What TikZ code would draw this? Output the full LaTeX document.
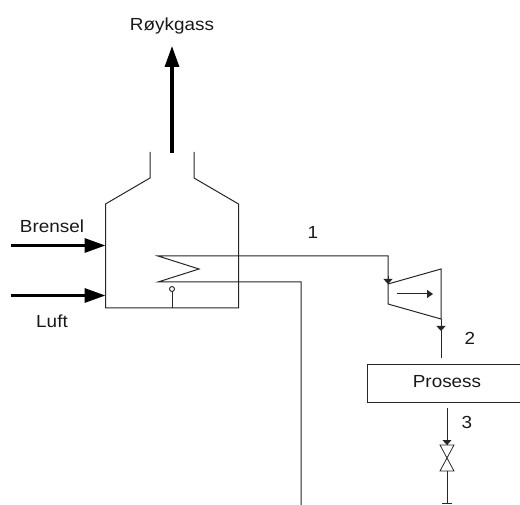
\documentclass[tikz,border=0pt]{standalone}
\usepackage{fontspec}
\setmainfont[FakeStretch=1.08]{Liberation Sans}
\usetikzlibrary{arrows.meta}
\tikzset{
  x=1pt,y=-1pt,
  pipe/.style={draw=black!85,line width=1pt},
  feed/.style={line width=3.2pt,-{Triangle[length=21pt,width=14pt]}},
  flowtip/.style={pipe,-{Triangle[length=5pt,width=9pt]}},
  label/.style={inner sep=0pt,font=\fontsize{17.5pt}{20pt}\selectfont,text=black!90}
}
\begin{document}
\begin{tikzpicture}
\useasboundingbox (0,0) rectangle (520,505);
% coordinates
\coordinate (gasS) at (172,153);
\coordinate (gasE) at (172,46);
\coordinate (brA) at (11,245.5);
\coordinate (brB) at (105.5,245.5);
\coordinate (luA) at (11,295.5);
\coordinate (luB) at (105.5,295.5);
\coordinate (co1) at (158,256);
\coordinate (co2) at (199,269);
\coordinate (co3) at (158,282);
\coordinate (tin) at (388,256);
\coordinate (tinB) at (388,284);
\coordinate (tinC) at (388,304);
\coordinate (tr1) at (441,269);
\coordinate (tr2) at (441,319);
\coordinate (tout) at (441,331);
\coordinate (tout2) at (441,358);
% furnace
\draw[pipe] (150,152) -- (150,178) -- (105.5,204) -- (105.5,308) -- (238.5,308) -- (238.5,204) -- (194,178) -- (194,152);
\coordinate (ob) at (172,308);
\node[circle,draw=black!85,line width=0.9pt,fill=white,minimum size=5pt,inner sep=0pt] (ring) at (172,289) {};
\draw[pipe] (ob) -- (ring);
% coil and steam line
\draw[pipe] (tinB) -- (tin) -- (co1) -- (co2) -- (co3) -- (301,282) -- (301,505);
% turbine
\draw[pipe] (tinB) -- (tr1) -- (tr2) -- (tinC) -- cycle;
\draw[flowtip] (388,276) -- (tinB);
\draw[pipe,-{Triangle[length=6pt,width=8pt]}] (397,294) -- (433,294);
% to process
\draw[pipe] (tr2) -- (tout2);
\draw[flowtip] (441,324) -- (tout);
% process box (its right edge runs off the page)
\node[draw=black!85,line width=1pt,minimum width=158pt,minimum height=38pt,inner sep=0pt,anchor=north west] (pros) at (367,364) {};
\node[label] (prost) at (447,382) {Prosess};
% valve
\coordinate (v1) at (447,445);
\coordinate (v2) at (447,471);
\draw[pipe] (447,408) -- (v1);
\draw[flowtip] (447,436) -- (v1);
\draw[pipe,line width=0.8pt] (440,445) -- (454,445) -- (440,471) -- (454,471) -- cycle;
\draw[pipe] (v2) -- (447,503);
\draw[pipe,line width=1.5pt] (442,503.5) -- (452,503.5);
% feeds
\draw[feed] (gasS) -- (gasE);
\draw[feed] (brA) -- (brB);
\draw[feed] (luA) -- (luB);
% labels
\node[label] (l0) at (172,26) {Røykgass};
\node[label] (l1) at (52,226) {Brensel};
\node[label] (l2) at (52,321) {Luft};
\node[label] (l3) at (313,232) {1};
\node[label] (l4) at (470,338.5) {2};
\node[label] (l5) at (467,422) {3};
\end{tikzpicture}
\end{document}
